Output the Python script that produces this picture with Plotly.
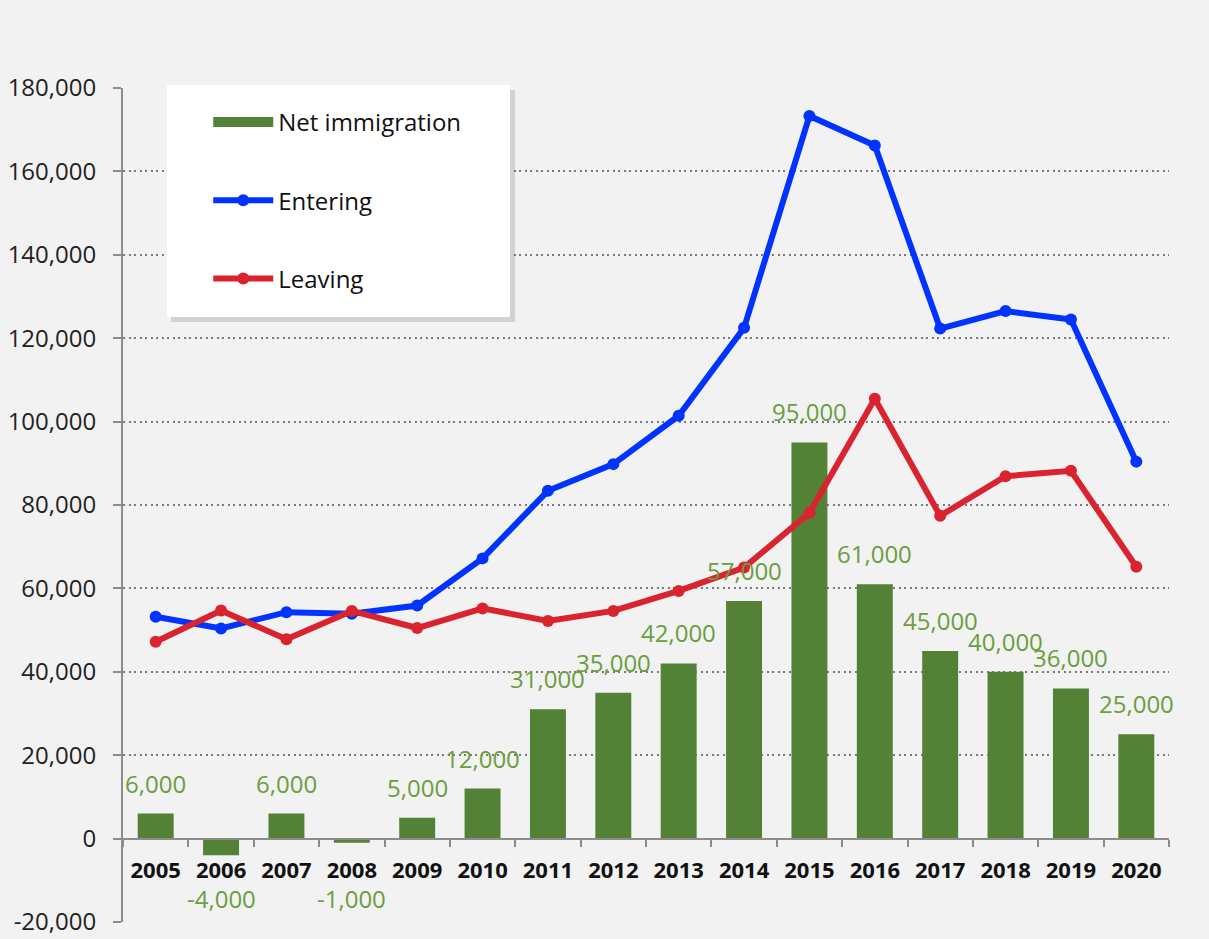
import plotly.graph_objects as go

years = ["2005", "2006", "2007", "2008", "2009", "2010", "2011", "2012",
         "2013", "2014", "2015", "2016", "2017", "2018", "2019", "2020"]
net_immigration = [6000, -4000, 6000, -1000, 5000, 12000, 31000, 35000,
                   42000, 57000, 95000, 61000, 45000, 40000, 36000, 25000]
entering = [53200, 50400, 54300, 53900, 55900, 67200, 83400, 89800,
            101400, 122500, 173300, 166200, 122300, 126500, 124500, 90400]
leaving = [47200, 54700, 47800, 54600, 50500, 55200, 52200, 54600,
           59400, 65000, 78100, 105500, 77400, 86900, 88200, 65200]
y_tick_vals = [-20000, 0, 20000, 40000, 60000, 80000, 100000, 120000,
               140000, 160000, 180000]
y_tick_text = ["-20,000", "0", "20,000", "40,000", "60,000", "80,000",
               "100,000", "120,000", "140,000", "160,000", "180,000"]

BG = "#f2f2f2"
GREEN = "#538135"
LABEL_GREEN = "#6a9e3f"
BLUE = "#0033ff"
RED = "#d9232f"
AXIS = "#8c8c8c"
FONT = "Open Sans"

fig = go.Figure()
fig.add_trace(go.Bar(x=years, y=net_immigration, name="Net immigration",
                     marker=dict(color=GREEN, line=dict(width=0)),
                     legendgroup="a", showlegend=False))
# legend swatch for the bars (wide rectangle, as in the original legend)
fig.add_trace(go.Scatter(x=[None], y=[None], name="Net immigration", mode="lines",
                         line=dict(color=GREEN, width=16), legendgroup="a",
                         hoverinfo="skip"))
fig.add_trace(go.Scatter(x=years, y=entering, name="Entering", mode="lines+markers",
                         line=dict(color=BLUE, width=6),
                         marker=dict(color=BLUE, size=12), legendgroup="b"))
fig.add_trace(go.Scatter(x=years, y=leaving, name="Leaving", mode="lines+markers",
                         line=dict(color=RED, width=6),
                         marker=dict(color=RED, size=12), legendgroup="c"))

# data labels (category positions given by index on the category axis)
for i, v in enumerate(net_immigration):
    label = f"{v:,}"
    if v >= 0:
        fig.add_annotation(x=i, y=v, text=label, showarrow=False,
                           yanchor="bottom", yshift=12,
                           font=dict(family=FONT, size=24, color=LABEL_GREEN))
    else:
        fig.add_annotation(x=i, y=0, text=label, showarrow=False,
                           yanchor="middle", yshift=-60,
                           font=dict(family=FONT, size=24, color=LABEL_GREEN))

# legend box with soft shadow
fig.add_shape(type="rect", xref="paper", yref="paper",
              x0=0.0459, x1=0.3748, y0=0.7194, y1=0.9976,
              fillcolor="rgba(0,0,0,0.13)", line=dict(width=0), layer="above")
fig.add_shape(type="rect", xref="paper", yref="paper",
              x0=0.0421, x1=0.370, y0=0.7254, y1=1.0036,
              fillcolor="white", line=dict(width=0), layer="above")

fig.update_layout(
    width=1209, height=939,
    margin=dict(l=123, r=40, t=88, b=17),
    paper_bgcolor=BG, plot_bgcolor=BG,
    bargap=0.45,
    showlegend=True,
    legend=dict(x=0.0815, y=0.9856, xanchor="left", yanchor="top",
                bgcolor="rgba(0,0,0,0)", borderwidth=0,
                font=dict(family=FONT, size=24, color="#111111"),
                traceorder="grouped", tracegroupgap=44,
                itemwidth=60),
    xaxis=dict(type="category", range=[-0.5, 15.5], anchor="free", position=0.1,
               showline=True, linecolor=AXIS, linewidth=2,
               ticks="outside", tickson="boundaries", ticklen=7,
               tickcolor=AXIS, tickwidth=2, ticklabelstandoff=12,
               tickfont=dict(family=FONT, size=22, color="#111111", weight="bold"),
               showgrid=False, fixedrange=True, automargin=False),
    yaxis=dict(range=[-20000, 180000], tickvals=y_tick_vals, ticktext=y_tick_text,
               showline=True, linecolor=AXIS, linewidth=2,
               ticks="outside", ticklen=8, tickcolor=AXIS, tickwidth=2,
               ticklabelstandoff=12,
               tickfont=dict(family=FONT, size=24, color="#222222"),
               showgrid=True, gridcolor="#7a7a7a", gridwidth=2, griddash="2px,3.5px",
               zeroline=False, fixedrange=True, automargin=False),
)

fig.write_html(
    "out.html",
    config={"displayModeBar": False},
    post_script="document.body.style.margin='0';document.body.style.background='#f2f2f2';",
)
